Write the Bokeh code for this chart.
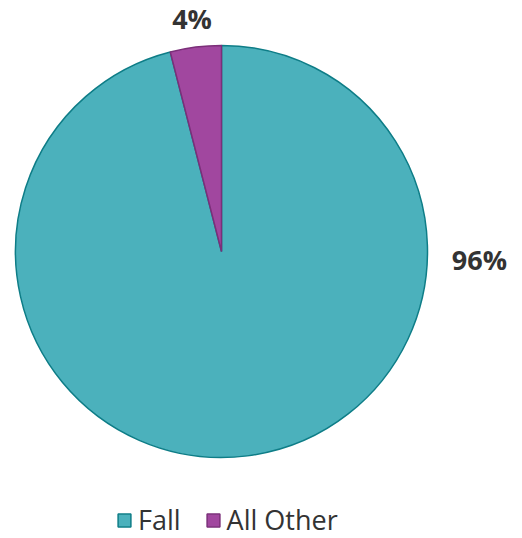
import math
from bokeh.plotting import figure
from bokeh.models import Range1d, ColumnDataSource, Legend, LegendItem
from bokeh.core.properties import value
from bokeh.embed import file_html
from bokeh.resources import INLINE

categories = ["Fall", "All Other"]
values = [96, 4]
fill_colors = ["#4BB1BC", "#A1479F"]
line_colors = ["#0E7D87", "#7B2F79"]

W, H = 512, 538
cx, cy, R = 221, H - 251, 206

p = figure(width=W, height=H, output_backend="svg", toolbar_location=None,
           x_range=Range1d(0, W), y_range=Range1d(0, H), min_border=0)
p.axis.visible = False
p.grid.visible = False
p.outline_line_color = None
p.background_fill_color = "white"

total = sum(values)
start = math.pi / 2
starts, ends, lx, ly, texts = [], [], [], [], []
for v in values:
    sweep = 2 * math.pi * v / total
    end = start - sweep
    starts.append(start)
    ends.append(end)
    mid = (start + end) / 2
    if v / total > 0.5:
        ang, rr = math.radians(-1.8), R + 52
    else:
        ang, rr = mid + 2 * math.pi, R + 29
    lx.append(cx + rr * math.cos(ang))
    ly.append(cy + rr * math.sin(ang))
    texts.append(f"{round(100 * v / total)}%")
    start = end

src = ColumnDataSource(dict(cat=categories, start=starts, end=ends,
                            fill=fill_colors, line=line_colors))
wedges = p.wedge(x=cx, y=cy, radius=R, start_angle="end", end_angle="start",
                 direction="anticlock", fill_color="fill", line_color="line",
                 line_width=1.5, source=src)

lsrc = ColumnDataSource(dict(x=lx, y=ly, t=texts))
p.text(x="x", y="y", text="t", source=lsrc, text_align="center",
       text_baseline="middle", text_font=value("Open Sans"),
       text_font_size="27px", text_font_style="bold", text_color="#333333",
       text_line_height=1.0)

items = [LegendItem(label=c, renderers=[wedges], index=i)
         for i, c in enumerate(categories)]

legend = Legend(items=items, orientation="horizontal", location=(116, 0),
                label_text_font="Open Sans", label_text_font_size="27px",
                label_text_color="#333333", label_text_line_height=0.9,
                label_height=16, glyph_width=16, glyph_height=16,
                spacing=24, padding=0, margin=0, border_line_color=None,
                background_fill_alpha=0, label_standoff=6)
p.add_layout(legend, "center")

open("out.html", "w").write(file_html(p, INLINE))
